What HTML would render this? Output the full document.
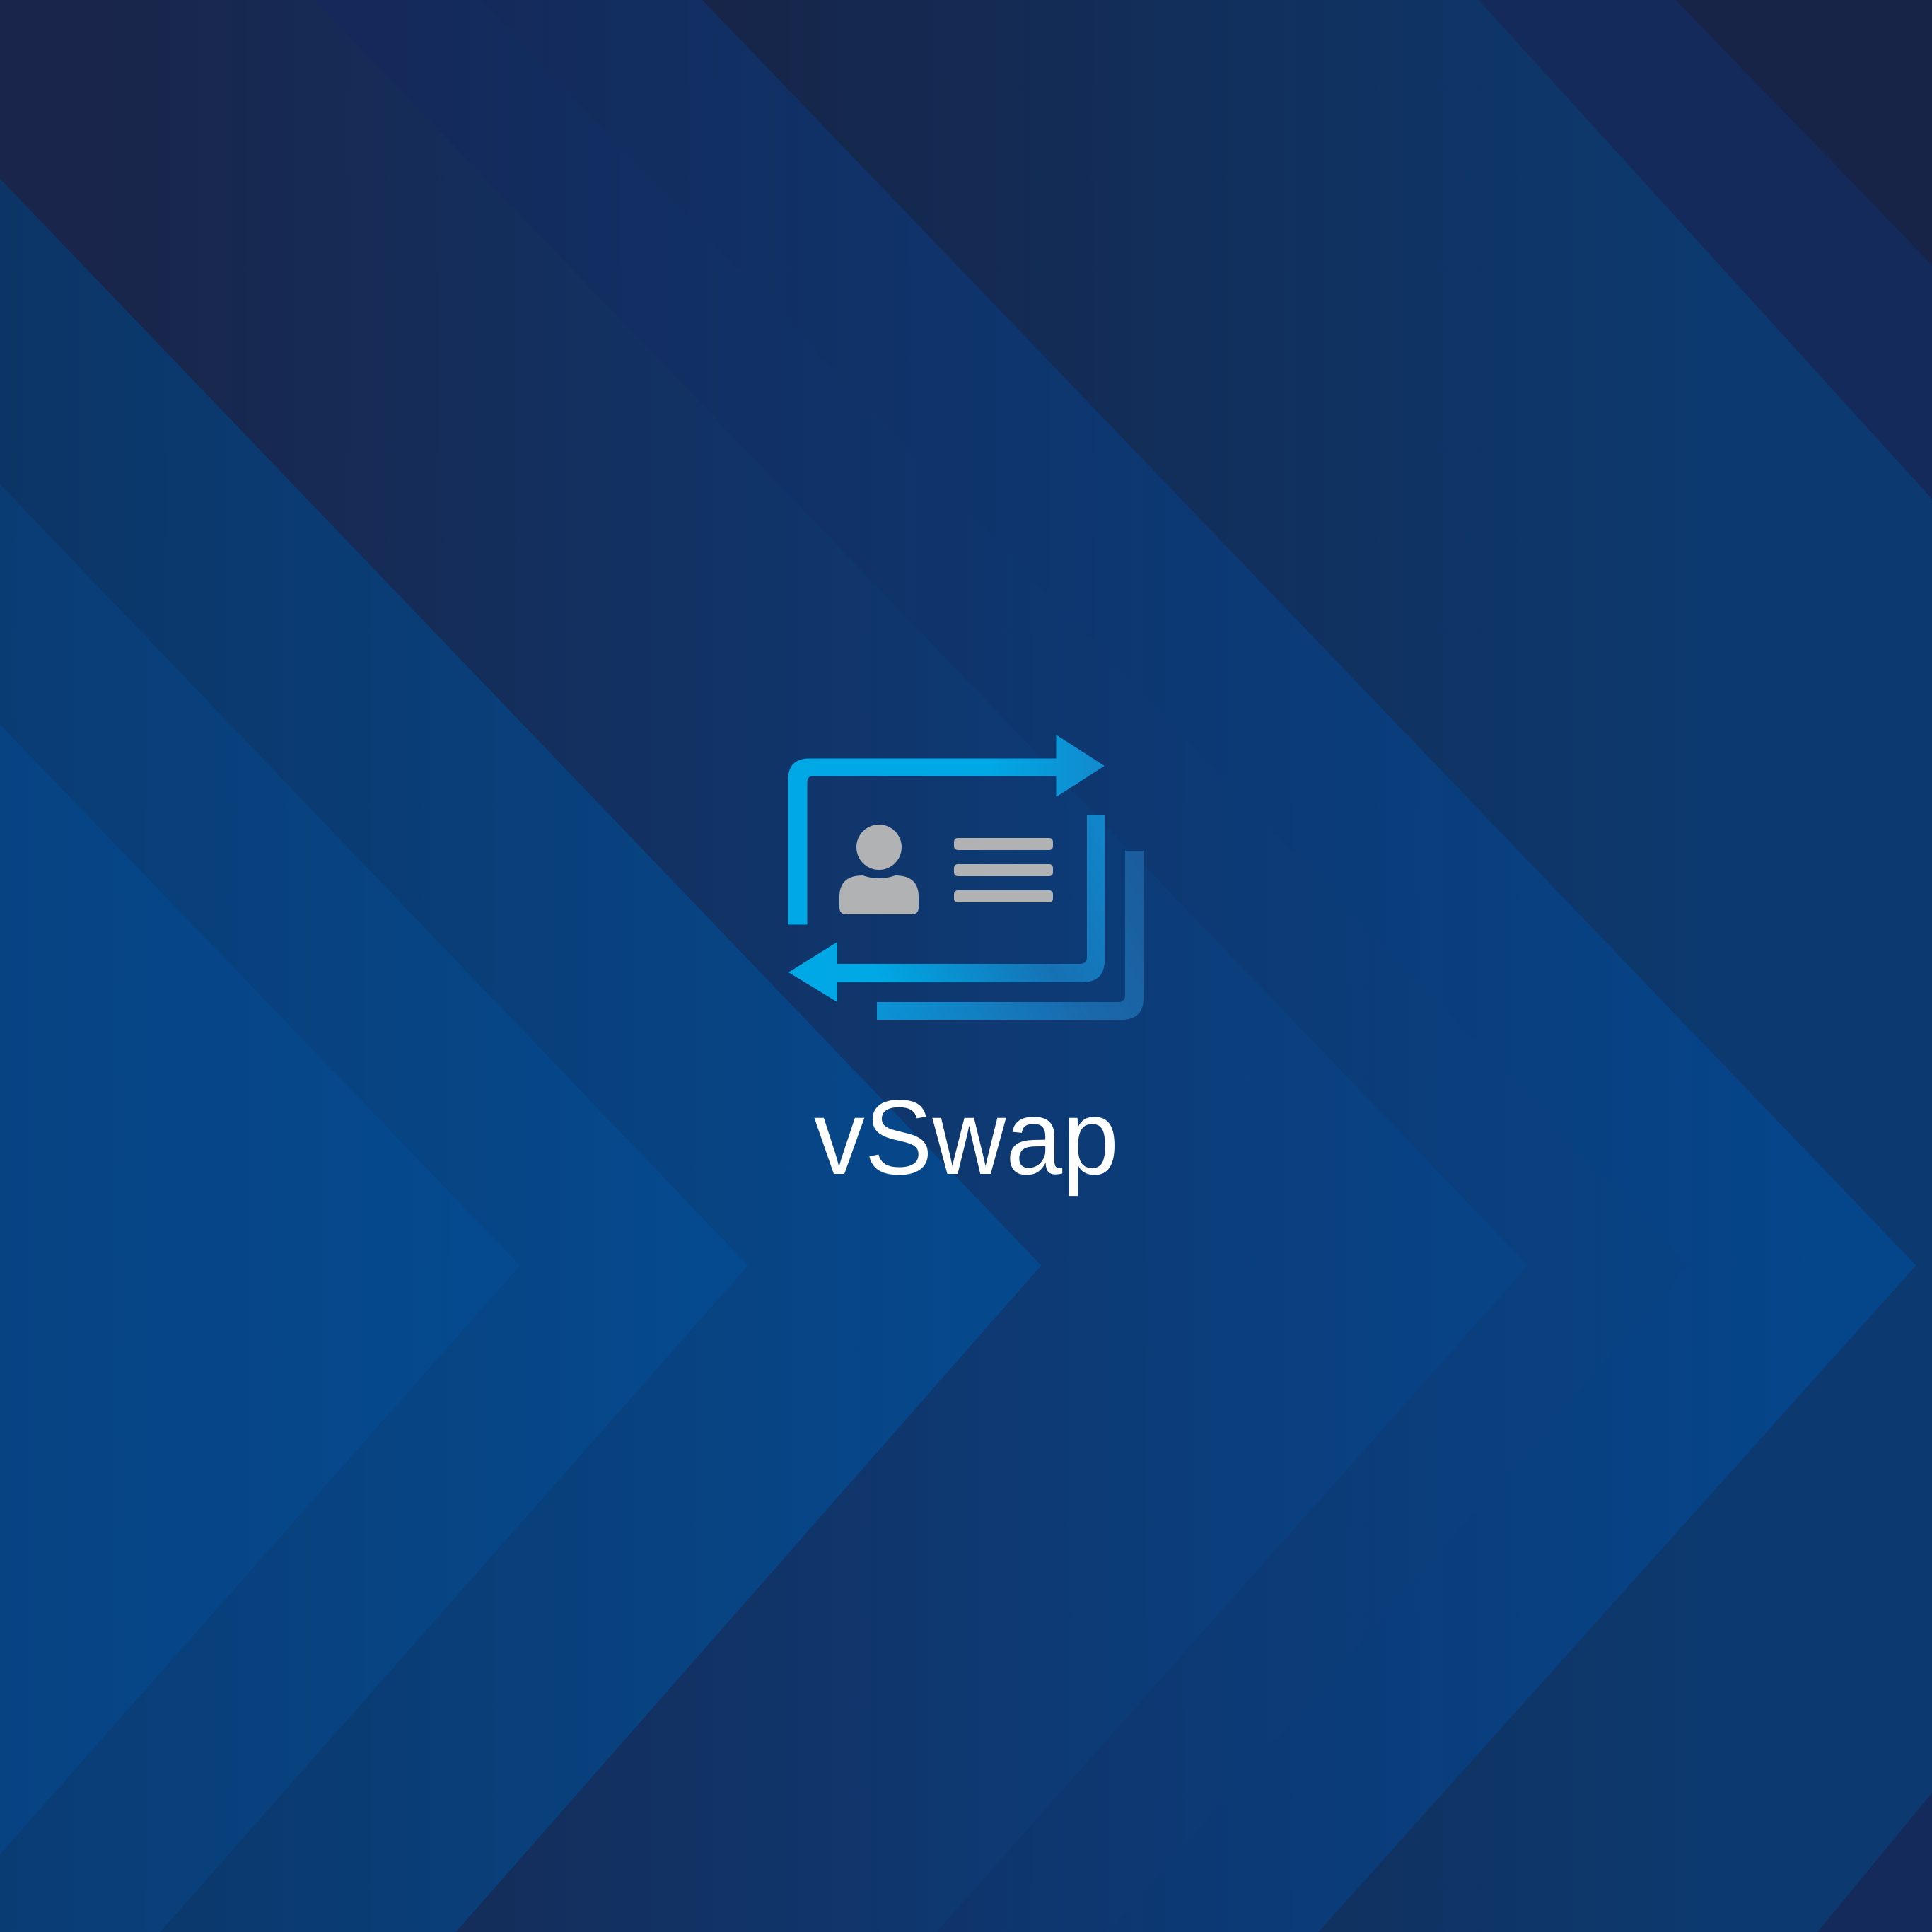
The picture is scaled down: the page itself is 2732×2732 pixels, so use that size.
<!DOCTYPE html>
<html><head><meta charset="utf-8"><style>html,body{margin:0;padding:0;background:#172447}svg{display:block}</style></head>
<body>
<svg width="2732" height="2732" viewBox="0 0 2732 2732" xmlns="http://www.w3.org/2000/svg">
<defs>
<linearGradient id="g0" gradientUnits="userSpaceOnUse" x1="0" y1="0" x2="1568" y2="0"><stop offset="0.35" stop-color="#172447"/><stop offset="0.9" stop-color="#0c3a70"/></linearGradient>
<linearGradient id="g1" gradientUnits="userSpaceOnUse" x1="0" y1="0" x2="1568" y2="0"><stop offset="0.25" stop-color="#142a5a"/><stop offset="0.95" stop-color="#05468b"/></linearGradient>
<linearGradient id="g2" gradientUnits="userSpaceOnUse" x1="0" y1="0" x2="1568" y2="0"><stop offset="0.2" stop-color="#14295a"/><stop offset="0.85" stop-color="#094282"/></linearGradient>
<linearGradient id="g3" gradientUnits="userSpaceOnUse" x1="0" y1="0" x2="1568" y2="0"><stop offset="0.05" stop-color="#19254a"/><stop offset="0.75" stop-color="#084386"/></linearGradient>
<linearGradient id="g4" gradientUnits="userSpaceOnUse" x1="0" y1="0" x2="1568" y2="0"><stop offset="0" stop-color="#0c3566"/><stop offset="0.5" stop-color="#06488c"/></linearGradient>
<linearGradient id="g5" gradientUnits="userSpaceOnUse" x1="0" y1="0" x2="1568" y2="0"><stop offset="0" stop-color="#0a3c74"/><stop offset="0.38" stop-color="#054a8f"/></linearGradient>
<linearGradient id="g6" gradientUnits="userSpaceOnUse" x1="0" y1="0" x2="1568" y2="0"><stop offset="0" stop-color="#074383"/><stop offset="0.27" stop-color="#054a8f"/></linearGradient>
<linearGradient id="a1" gradientUnits="userSpaceOnUse" x1="1400" y1="0" x2="1565" y2="0"><stop offset="0" stop-color="#00a8e6"/><stop offset="1" stop-color="#1389cc"/></linearGradient>
<linearGradient id="a2" gradientUnits="userSpaceOnUse" x1="1190" y1="1380" x2="1565" y2="1160"><stop offset="0.1" stop-color="#00a8e6"/><stop offset="0.6" stop-color="#1671b4"/><stop offset="1" stop-color="#1186cb"/></linearGradient>
<linearGradient id="a3" gradientUnits="userSpaceOnUse" x1="1240" y1="1430" x2="1620" y2="1210"><stop offset="0" stop-color="#0b93d6"/><stop offset="0.6" stop-color="#1a68aa"/><stop offset="1" stop-color="#1a5c9c"/></linearGradient>
</defs>
<g transform="scale(1.74235)">
<rect width="1568" height="1568" fill="#172447"/>
<polygon points="1360,0 1568,215 1568,1568 0,1568 0,0" fill="#142a5a"/>
<polygon points="1200,0 1568,405 1568,1455 1475,1568 0,1568 0,0" fill="url(#g0)"/>
<polygon points="570,0 1555,1027 1070,1568 0,1568 0,0" fill="url(#g1)"/>
<polygon points="390,0 1370,1027 900,1568 0,1568 0,0" fill="url(#g2)"/>
<polygon points="255,0 1240,1027 760,1568 0,1568 0,0" fill="url(#g3)"/>
<polygon points="0,145 845,1027 370,1568 0,1568" fill="url(#g4)"/>
<polygon points="0,393 607,1027 130,1568 0,1568" fill="url(#g5)"/>
<polygon points="0,588 422,1027 0,1505" fill="url(#g6)"/>
</g>
<!-- icon -->
<path d="M1115,1307 L1115,1102 Q1115,1073 1145,1073 L1494,1073 L1494,1040 L1561,1083 L1494,1126 L1494,1097 L1150,1097 Q1141,1097 1141,1106 L1141,1307 Z" fill="url(#a1)" stroke="url(#a1)" stroke-width="1" stroke-linejoin="round"/>
<path d="M1537,1152 L1562,1152 L1562,1358 Q1562,1389 1530,1389 L1184,1389 L1184,1417 L1115,1375 L1184,1332 L1184,1363 L1527,1363 Q1537,1363 1537,1353 Z" fill="url(#a2)" stroke-linejoin="round"/>
<path d="M1591,1203 L1617,1203 L1617,1412 Q1617,1442 1585,1442 L1240,1442 L1240,1417 L1581,1417 Q1591,1417 1591,1407 Z" fill="url(#a3)"/>
<circle cx="1243" cy="1198" r="32" fill="#b1b2b4"/>
<path d="M1187,1293 L1187,1268 Q1187,1238 1220,1238 Q1243,1246 1266,1238 Q1299,1238 1299,1268 L1299,1283 Q1299,1293 1289,1293 L1197,1293 Q1187,1293 1187,1283 Z" fill="#b1b2b4"/>
<rect x="1349" y="1185" width="140" height="17" rx="5" fill="#b1b2b4"/>
<rect x="1349" y="1222" width="140" height="17" rx="5" fill="#b1b2b4"/>
<rect x="1349" y="1259" width="140" height="17" rx="5" fill="#b1b2b4"/>
<text x="1151" y="1660" font-family="Liberation Sans, DejaVu Sans, sans-serif" font-size="150" fill="#ffffff" textLength="431" lengthAdjust="spacingAndGlyphs">vSwap</text>
</svg>
</body></html>
